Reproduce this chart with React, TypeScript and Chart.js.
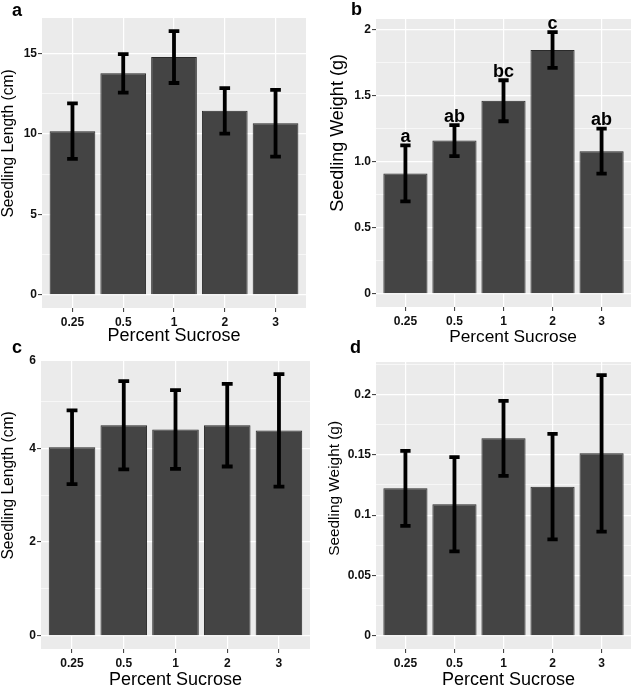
import React, { useEffect, useRef } from "react";
import { Chart, registerables } from "chart.js";

Chart.register(...registerables);

// ---------- data ----------
const categories = ["0.25", "0.5", "1", "2", "3"];

const lengthA = [10.17, 13.76, 14.77, 11.43, 10.66];
const lengthAErr = [1.72, 1.2, 1.61, 1.41, 2.07];

const weightB = [0.911, 1.159, 1.46, 1.844, 1.079];
const weightBErr = [0.212, 0.117, 0.155, 0.135, 0.17];
const lettersB = ["a", "ab", "bc", "c", "ab"];

const lengthC = [4.02, 4.49, 4.4, 4.49, 4.38];
const lengthCErr = [0.785, 0.94, 0.84, 0.88, 1.2];

const weightD = [0.1222, 0.109, 0.1636, 0.1236, 0.1512];
const weightDErr = [0.031, 0.039, 0.031, 0.0437, 0.0648];

const ticksA = [0, 5, 10, 15];
const tickLabelsA = ["0", "5", "10", "15"];
const ticksB = [0, 0.5, 1, 1.5, 2];
const tickLabelsB = ["0", "0.5", "1.0", "1.5", "2"];
const ticksC = [0, 2, 4, 6];
const tickLabelsC = ["0", "2", "4", "6"];
const ticksD = [0, 0.05, 0.1, 0.15, 0.2];
const tickLabelsD = ["0", "0.05", "0.1", "0.15", "0.2"];

const xTitle = "Percent Sucrose";
const yTitleLength = "Seedling Length (cm)";
const yTitleWeight = "Seedling Weight (g)";

// ---------- styling ----------
const FONT = "'Liberation Sans', Arial, Helvetica, sans-serif";
const PANEL_BG = "#EBEBEB";
const BAR_FILL = "#444444";
const BAR_EDGE = "#2a2a2a";
const TEXT = "#111111";

type Panel = {
  letter: string;
  means: number[];
  errs: number[];
  groups?: string[];
  majors: number[];
  majorLabels: string[];
  yTitle: string;
  yTitleSize: number;
  yTitlePad: number;
  xTitle: string;
  xTitleSize: number;
  xTitlePad: number;
  box: { left: number; top: number; width: number; height: number };
  area: { left: number; top: number; right: number; bottom: number };
  letterPos: [number, number];
};

const panels: Panel[] = [
  {
    letter: "a",
    means: lengthA,
    errs: lengthAErr,
    majors: ticksA,
    majorLabels: tickLabelsA,
    yTitle: " ".repeat(9) + yTitleLength,
    yTitleSize: 15.6,
    yTitlePad: 1,
    xTitle: xTitle,
    xTitleSize: 18,
    xTitlePad: 5,
    box: { left: 0, top: 0, width: 319, height: 350 },
    area: { left: 42, top: 18, right: 306, bottom: 308 },
    letterPos: [12, 15.5],
  },
  {
    letter: "b",
    means: weightB,
    errs: weightBErr,
    groups: lettersB,
    majors: ticksB,
    majorLabels: tickLabelsB,
    yTitle: " ".repeat(12) + yTitleWeight,
    yTitleSize: 18,
    yTitlePad: 10,
    xTitle: "    " + xTitle,
    xTitleSize: 17.3,
    xTitlePad: 4,
    box: { left: 319, top: 0, width: 319, height: 350 },
    area: { left: 57, top: 19, right: 312, bottom: 307 },
    letterPos: [32, 14.5],
  },
  {
    letter: "c",
    means: lengthC,
    errs: lengthCErr,
    majors: ticksC,
    majorLabels: tickLabelsC,
    yTitle: " ".repeat(9) + yTitleLength,
    yTitleSize: 15.6,
    yTitlePad: 1,
    xTitle: xTitle,
    xTitleSize: 18,
    xTitlePad: 0,
    box: { left: 0, top: 338, width: 319, height: 351 },
    area: { left: 41, top: 23, right: 310, bottom: 311 },
    letterPos: [12, 14.5],
  },
  {
    letter: "d",
    means: weightD,
    errs: weightDErr,
    majors: ticksD,
    majorLabels: tickLabelsD,
    yTitle: " ".repeat(8) + yTitleWeight,
    yTitleSize: 15.4,
    yTitlePad: 8,
    xTitle: "  " + xTitle,
    xTitleSize: 18,
    xTitlePad: 0,
    box: { left: 319, top: 338, width: 319, height: 351 },
    area: { left: 57, top: 24, right: 312, bottom: 311 },
    letterPos: [31, 15.3],
  },
];

const decorPlugin = {
  id: "ggDecor",
  beforeDraw(chart: any) {
    const { ctx, chartArea } = chart;
    ctx.save();
    ctx.fillStyle = PANEL_BG;
    ctx.fillRect(chartArea.left, chartArea.top, chartArea.right - chartArea.left, chartArea.bottom - chartArea.top);
    ctx.restore();
  },
  afterDatasetsDraw(chart: any, _args: any, opts: any) {
    const { ctx } = chart;
    const x = chart.scales.x;
    const y = chart.scales.y;
    const p: Panel = opts.panel;
    const capHalf = x.getPixelForValue(1 + 0.105) - x.getPixelForValue(1);
    ctx.save();
    ctx.strokeStyle = "#000";
    ctx.lineWidth = 3.8;
    ctx.lineCap = "butt";
    p.means.forEach((m, i) => {
      const px = x.getPixelForValue(i + 1);
      const hi = y.getPixelForValue(m + p.errs[i]);
      const lo = y.getPixelForValue(m - p.errs[i]);
      ctx.beginPath();
      ctx.moveTo(px, hi);
      ctx.lineTo(px, lo);
      ctx.moveTo(px - capHalf, hi);
      ctx.lineTo(px + capHalf, hi);
      ctx.moveTo(px - capHalf, lo);
      ctx.lineTo(px + capHalf, lo);
      ctx.stroke();
      if (p.groups) {
        ctx.fillStyle = "#000";
        ctx.font = `bold 18px ${FONT}`;
        ctx.textAlign = "center";
        ctx.textBaseline = "alphabetic";
        ctx.fillText(p.groups[i], px, hi - 3.5);
      }
    });
    ctx.restore();
  },
  afterDraw(chart: any, _args: any, opts: any) {
    const { ctx } = chart;
    const p: Panel = opts.panel;
    ctx.save();
    ctx.fillStyle = "#000";
    ctx.font = `bold 18px ${FONT}`;
    ctx.textAlign = "left";
    ctx.textBaseline = "alphabetic";
    ctx.fillText(p.letter, p.letterPos[0], p.letterPos[1]);
    ctx.restore();
  },
};

function buildChart(canvas: HTMLCanvasElement, p: Panel) {
  const hiVal = Math.max(...p.means.map((m, i) => m + p.errs[i]));
  const yMin = -0.05 * hiVal;
  const yMax = 1.05 * hiVal;
  const step = p.majors[1] - p.majors[0];
  const minors: number[] = [];
  for (let v = p.majors[0] - step / 2; v <= yMax + 1e-9; v += step) {
    if (v >= yMin) minors.push(v);
  }
  const isMajor = (v: number) => p.majors.some((m) => Math.abs(Math.min(m, yMax) - v) < 1e-9);
  const isClamped = (v: number) => Math.abs(v - yMax) < 1e-9 && p.majors.some((m) => m > yMax);
  const labelFor = (v: number) => {
    const idx = p.majors.findIndex((m) => Math.abs(Math.min(m, yMax) - v) < 1e-9);
    return idx >= 0 ? p.majorLabels[idx] : "";
  };
  const allTicks = [...p.majors.map((m) => Math.min(m, yMax)), ...minors].sort((a, b) => a - b);

  return new Chart(canvas, {
    type: "bar",
    data: {
      datasets: [
        {
          data: p.means.map((m, i) => ({ x: i + 1, y: m })),
          backgroundColor: BAR_FILL,
          borderColor: BAR_EDGE,
          borderWidth: 1,
          categoryPercentage: 1,
          barPercentage: 0.9,
        },
      ],
    },
    options: {
      responsive: false,
      animation: false,
      devicePixelRatio: 1,
      layout: {
        padding: {
          left: 0,
          top: p.area.top,
          right: p.box.width - p.area.right,
          bottom: 0,
        },
      },
      plugins: {
        legend: { display: false },
        tooltip: { enabled: false },
        title: { display: false },
        ggDecor: { panel: p },
      } as any,
      scales: {
        x: {
          type: "linear",
          min: 0.4,
          max: 5.6,
          offset: false,
          afterBuildTicks: (s: any) => {
            s.ticks = categories.map((_, i) => ({ value: i + 1 }));
          },
          afterFit: (s: any) => {
            s.height = p.box.height - p.area.bottom;
          },
          ticks: {
            autoSkip: false,
            maxRotation: 0,
            callback: (v: any) => categories[Math.round(Number(v)) - 1],
            font: { family: FONT, size: 12, weight: "bold" },
            color: TEXT,
            padding: 3,
          },
          grid: {
            color: "#ffffff",
            lineWidth: 1.2,
            offset: false,
            drawTicks: true,
            tickLength: 4,
            tickColor: "#333333",
            tickWidth: 1,
          },
          border: { display: false },
          title: {
            display: true,
            text: p.xTitle,
            color: "#000",
            font: { family: FONT, size: p.xTitleSize, lineHeight: 1 },
            padding: { top: 0, bottom: p.xTitlePad },
          },
        },
        y: {
          type: "linear",
          min: yMin,
          max: yMax,
          afterBuildTicks: (s: any) => {
            s.ticks = allTicks.map((v) => ({ value: v }));
          },
          afterFit: (s: any) => {
            s.width = p.area.left;
          },
          ticks: {
            autoSkip: false,
            callback: (v: any) => labelFor(Number(v)),
            font: { family: FONT, size: 12, weight: "bold" },
            color: TEXT,
            padding: 1,
          },
          grid: {
            color: (c: any) => (c.tick && isClamped(c.tick.value) ? "rgba(0,0,0,0)" : "#ffffff"),
            lineWidth: (c: any) => (c.tick && isMajor(c.tick.value) ? 1.2 : 0.6),
            drawTicks: true,
            tickLength: 4,
            tickColor: (c: any) =>
              c.tick && isMajor(c.tick.value) && !isClamped(c.tick.value) ? "#333333" : "rgba(0,0,0,0)",
            tickWidth: 1,
          },
          border: { display: false },
          title: {
            display: true,
            text: p.yTitle,
            color: "#000",
            font: { family: FONT, size: p.yTitleSize, lineHeight: 1 },
            padding: { top: p.yTitlePad, bottom: 0 },
          },
        },
      },
    } as any,
    plugins: [decorPlugin],
  });
}

export default function App() {
  const refs = useRef<(HTMLCanvasElement | null)[]>([]);

  useEffect(() => {
    const charts = panels.map((p, i) => buildChart(refs.current[i] as HTMLCanvasElement, p));
    return () => charts.forEach((c) => c.destroy());
  }, []);

  return (
    <div style={{ position: "absolute", left: 0, top: 0, width: 638, height: 689, background: "#fff", overflow: "hidden" }}>
      {panels.map((p, i) => (
        <canvas
          key={p.letter}
          ref={(el) => {
            refs.current[i] = el;
          }}
          width={p.box.width}
          height={p.box.height}
          style={{ position: "absolute", left: p.box.left, top: p.box.top, width: p.box.width, height: p.box.height }}
        />
      ))}
    </div>
  );
}
